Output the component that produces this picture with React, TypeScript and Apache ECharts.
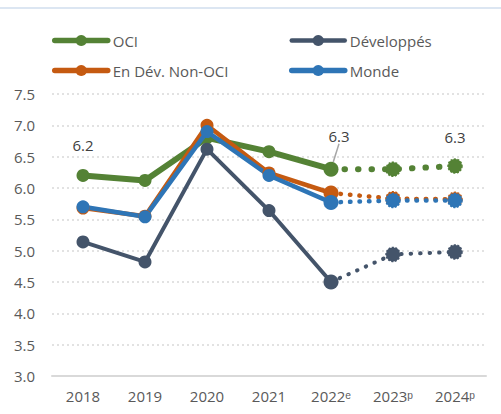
import React, { useEffect, useRef } from "react";
import * as echarts from "echarts";

const categories = ["2018", "2019", "2020", "2021", "2022ᵉ", "2023ᵖ", "2024ᵖ"];
const oci = [6.2, 6.12, 6.8, 6.58, 6.3, 6.3, 6.35];
const developpes = [5.14, 4.82, 6.62, 5.64, 4.5, 4.94, 4.98];
const nonOci = [5.68, 5.55, 7.0, 6.24, 5.92, 5.83, 5.82];
const monde = [5.7, 5.54, 6.9, 6.2, 5.77, 5.8, 5.8];
const yTicks = { min: 3, max: 7.5, interval: 0.5 };
const LAST_ACTUAL = 4;

const FONT = "'Open Sans', sans-serif";
const TXT = "#595959";

type S = { name: string; data: number[]; color: string; width: number; dot: number[] };
const groups: S[] = [
  { name: "Développés", data: developpes, color: "#44546a", width: 4, dot: [0.5, 9] },
  { name: "En Dév. Non-OCI", data: nonOci, color: "#c55a11", width: 4.5, dot: [0.5, 9] },
  { name: "Monde", data: monde, color: "#2e75b6", width: 4.5, dot: [0.5, 9] },
  { name: "OCI", data: oci, color: "#548235", width: 6, dot: [0.5, 13] },
];

export default function App() {
  const ref = useRef<HTMLDivElement>(null);
  useEffect(() => {
    document.body.style.margin = "0";
    const chart = echarts.init(ref.current!, undefined, { renderer: "svg" });
    const series: any[] = [];
    const labelStyle = {
      show: true,
      position: "top",
      formatter: (p: any) => Number(p.value).toFixed(1),
      color: "#404040",
      fontSize: 15,
      fontFamily: FONT,
    };
    groups.forEach((g) => {
      const isOci = g.name === "OCI";
      const solid = g.data.map((v, i) => {
        if (i > LAST_ACTUAL) return "-";
        if (isOci && (i === 0 || i === LAST_ACTUAL)) {
          return {
            value: v,
            label: { ...labelStyle, distance: i === 0 ? 16 : 18 },
            labelLine: i === LAST_ACTUAL ? { show: true, lineStyle: { color: "#a6a6a6", width: 1.5 } } : { show: false },
          };
        }
        return v;
      });
      series.push({
        name: g.name,
        type: "line",
        data: solid,
        z: isOci ? 1 : 2,
        symbol: "circle",
        symbolSize: (_v: any, p: any) => (p.dataIndex === LAST_ACTUAL ? 15 : 13),
        lineStyle: { color: g.color, width: g.width },
        itemStyle: { color: g.color },
        labelLine: { show: false },
        labelLayout: isOci
          ? (p: any) => (p.dataIndex === LAST_ACTUAL ? { dx: 8, dy: 0 } : {})
          : undefined,
        emphasis: { disabled: true },
      });
      const proj = g.data.map((v, i) => {
        if (i < LAST_ACTUAL) return "-";
        if (isOci && i === 6) {
          return { value: v, label: { ...labelStyle, distance: 14 } };
        }
        return v;
      });
      series.push({
        name: g.name + " (p)",
        type: "line",
        data: proj,
        z: isOci ? 1 : 2,
        symbol: "circle",
        symbolSize: (_v: any, p: any) => (p.dataIndex === LAST_ACTUAL ? 0 : 14),
        lineStyle: { color: g.color, width: g.width, type: g.dot, cap: "round" },
        itemStyle: { color: g.color, borderColor: g.color, borderWidth: 1.5, borderType: [2, 1.5] },
        emphasis: { disabled: true },
      });
    });

    const legendItem = (name: string) => {
      const g = groups.find((x) => x.name === name)!;
      return { name, lineStyle: { width: g.name === "Développés" ? 4.5 : 5.5, cap: "round" } };
    };

    const legendBase = {
      orient: "vertical",
      top: 33,
      padding: 0,
      itemWidth: 53,
      itemHeight: 14,
      itemGap: 15,
      textStyle: { color: TXT, fontSize: 15, fontFamily: FONT },
      selectedMode: false,
    };

    chart.setOption({
      animation: false,
      backgroundColor: "#ffffff",
      graphic: [
        {
          type: "rect",
          shape: { x: 0, y: 7, width: 501, height: 2 },
          style: { fill: "#dce6f2" },
        },
      ],
      legend: [
        { ...legendBase, left: 52, data: [legendItem("OCI"), legendItem("En Dév. Non-OCI")] },
        { ...legendBase, left: 289, data: [legendItem("Développés"), legendItem("Monde")] },
      ],
      grid: { left: 52, right: 15, top: 94, bottom: 38 },
      xAxis: {
        type: "category",
        data: categories,
        boundaryGap: true,
        axisLine: { show: true, lineStyle: { color: "#d9d9d9", width: 2 } },
        axisTick: { show: false },
        axisLabel: { color: TXT, fontSize: 15, fontFamily: FONT, margin: 12 },
      },
      yAxis: {
        type: "value",
        min: yTicks.min,
        max: yTicks.max,
        interval: yTicks.interval,
        axisLine: { show: false },
        axisTick: { show: false },
        axisLabel: {
          color: TXT,
          fontSize: 15,
          fontFamily: FONT,
          margin: 17,
          formatter: (v: number) => v.toFixed(1),
        },
        splitLine: { lineStyle: { color: "#d9d9d9", type: [2, 3], width: 1.5 } },
      },
      series,
    });
    return () => chart.dispose();
  }, []);
  return <div ref={ref} style={{ width: 501, height: 414 }} />;
}
